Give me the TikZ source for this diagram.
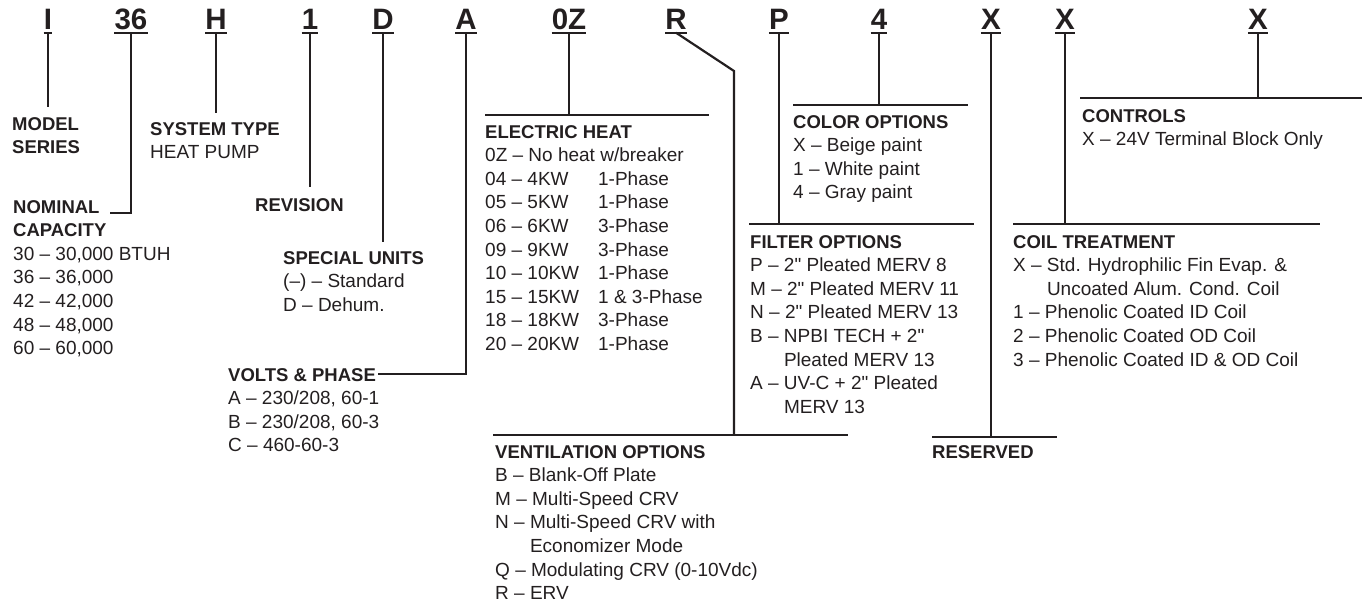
\documentclass[tikz,border=0pt]{standalone}
\usepackage{fontspec}
\setmainfont{Liberation Sans}[Ligatures=TeXOff]
\definecolor{ink}{HTML}{231F20}
\newcommand\codefont{\fontsize{29.5}{32}\selectfont\bfseries}
\newcommand\entryfont{\fontsize{19}{23.6}\selectfont}
\newcommand\headfont{\fontsize{18.5}{23.6}\selectfont\bfseries}
\newcommand\entry[2]{\begin{tabular}[t]{@{}l@{}}\headfont #1#2\end{tabular}}
\newcommand\kwrow[2]{\makebox[113pt][l]{#1}#2}
\tikzset{
  code/.style={font=\codefont, text=ink, inner xsep=0pt, inner ysep=3pt,
    text depth=0pt, anchor=base},
  block/.style={font=\entryfont, text=ink, inner sep=0pt, anchor=base west},
  lead/.style={line width=2.2pt, draw=ink},
}
\begin{document}
\begin{tikzpicture}[x=1pt,y=-1pt]
\useasboundingbox (0,0) rectangle (1362,608);
% model code letters
\node[code] (cI)  at (48,29.5)   {I};
\node[code] (c36) at (131,29.5)  {36};
\node[code] (cH)  at (216,29.5)  {H};
\node[code] (c1)  at (310,29.5)  {1};
\node[code] (cD)  at (383,29.5)  {D};
\node[code] (cA)  at (466,29.5)  {A};
\node[code] (c0Z) at (569,29.5)  {0Z};
\node[code] (cR)  at (676,29.5)  {R};
\node[code] (cP)  at (779,29.5)  {P};
\node[code] (c4)  at (879,29.5)  {4};
\node[code] (cXa) at (991,29.5)  {X};
\node[code] (cXb) at (1065,29.5) {X};
\node[code] (cXc) at (1258,29.5) {X};
\foreach \n in {cI,c36,cH,c1,cD,cA,c0Z,cR,cP,c4,cXa,cXb,cXc}
  \draw[lead] (\n.south west) -- (\n.south east);
% descriptions
\node[block] (series) at (12,130) {\entry{MODEL}{\\\headfont SERIES}};
\node[block] (systype) at (150,135) {\entry{SYSTEM TYPE}{\\HEAT PUMP}};
\node[block] (capacity) at (13,213) {\entry{NOMINAL}{\\\headfont CAPACITY\\
  30 – 30,000 BTUH\\36 – 36,000\\42 – 42,000\\48 – 48,000\\60 – 60,000}};
\node[block] (revision) at (255,211) {\entry{REVISION}{}};
\node[block] (special) at (283,264) {\entry{SPECIAL UNITS}{\\
  (–) – Standard\\D – Dehum.}};
\node[block] (volts) at (228,381) {\entry{VOLTS \& PHASE}{\\
  A – 230/208, 60-1\\B – 230/208, 60-3\\C – 460-60-3}};
\node[block] (heat) at (485,138) {\entry{ELECTRIC HEAT}{\\
  0Z – No heat w/breaker\\
  \kwrow{04 – 4KW}{1-Phase}\\\kwrow{05 – 5KW}{1-Phase}\\
  \kwrow{06 – 6KW}{3-Phase}\\\kwrow{09 – 9KW}{3-Phase}\\
  \kwrow{10 – 10KW}{1-Phase}\\\kwrow{15 – 15KW}{1 \& 3-Phase}\\
  \kwrow{18 – 18KW}{3-Phase}\\\kwrow{20 – 20KW}{1-Phase}}};
\node[block] (color) at (793,128) {\entry{COLOR OPTIONS}{\\
  X – Beige paint\\1 – White paint\\4 – Gray paint}};
\node[block] (filter) at (750,248) {\entry{FILTER OPTIONS}{\\
  P – 2" Pleated MERV 8\\M – 2" Pleated MERV 11\\N – 2" Pleated MERV 13\\
  B – NPBI TECH + 2"\\\phantom{B – }Pleated MERV 13\\
  A – UV-C + 2" Pleated\\\phantom{A – }MERV 13}};
\node[block] (vent) at (495,458) {\entry{VENTILATION OPTIONS}{\\
  B – Blank-Off Plate\\M – Multi-Speed CRV\\N – Multi-Speed CRV with\\
  \phantom{N – }Economizer Mode\\Q – Modulating CRV (0-10Vdc)\\R – ERV}};
\node[block] (controls) at (1082,122) {\entry{CONTROLS}{\\
  X – 24V Terminal Block Only}};
\node[block] (coil) at (1013,248) {\entry{COIL TREATMENT}{\\
  X – Std. Hydrophilic Fin Evap. \&\\\phantom{X – }Uncoated Alum. Cond. Coil\\
  1 – Phenolic Coated ID Coil\\2 – Phenolic Coated OD Coil\\
  3 – Phenolic Coated ID \& OD Coil}};
\node[block] (reserved) at (932,458) {\entry{RESERVED}{}};
% leader ends and bars
\coordinate (eI) at (48,107);
\coordinate (k36) at (110,213);
\coordinate (eH) at (216,113);
\coordinate (e1) at (310,187);
\coordinate (eD) at (383,242);
\coordinate (kA) at (378,374);
\coordinate (kR) at (734,71);
\draw[lead] (cI.south) -- (eI);
\draw[lead] (c36.south) |- (k36);
\draw[lead] (cH.south) -- (eH);
\draw[lead] (c1.south) -- (e1);
\draw[lead] (cD.south) -- (eD);
\draw[lead] (cA.south) |- (kA);
\draw[lead] (485,115) -- (709,115);
\draw[lead] (c0Z.south) -- (c0Z.south |- 0,115);
\draw[lead] (cR.south) -- (kR) -- (kR |- 0,435);
\draw[lead] (493,435) -- (848,435);
\draw[lead] (cP.south) -- (cP.south |- 0,224);
\draw[lead] (749,224) -- (974,224);
\draw[lead] (c4.south) -- (c4.south |- 0,105);
\draw[lead] (793,105) -- (968,105);
\draw[lead] (cXa.south) -- (cXa.south |- 0,437);
\draw[lead] (932,437) -- (1057,437);
\draw[lead] (cXb.south) -- (cXb.south |- 0,224);
\draw[lead] (1013,224) -- (1320,224);
\draw[lead] (cXc.south) -- (cXc.south |- 0,98);
\draw[lead] (1080,98) -- (1362,98);
\end{tikzpicture}
\end{document}
